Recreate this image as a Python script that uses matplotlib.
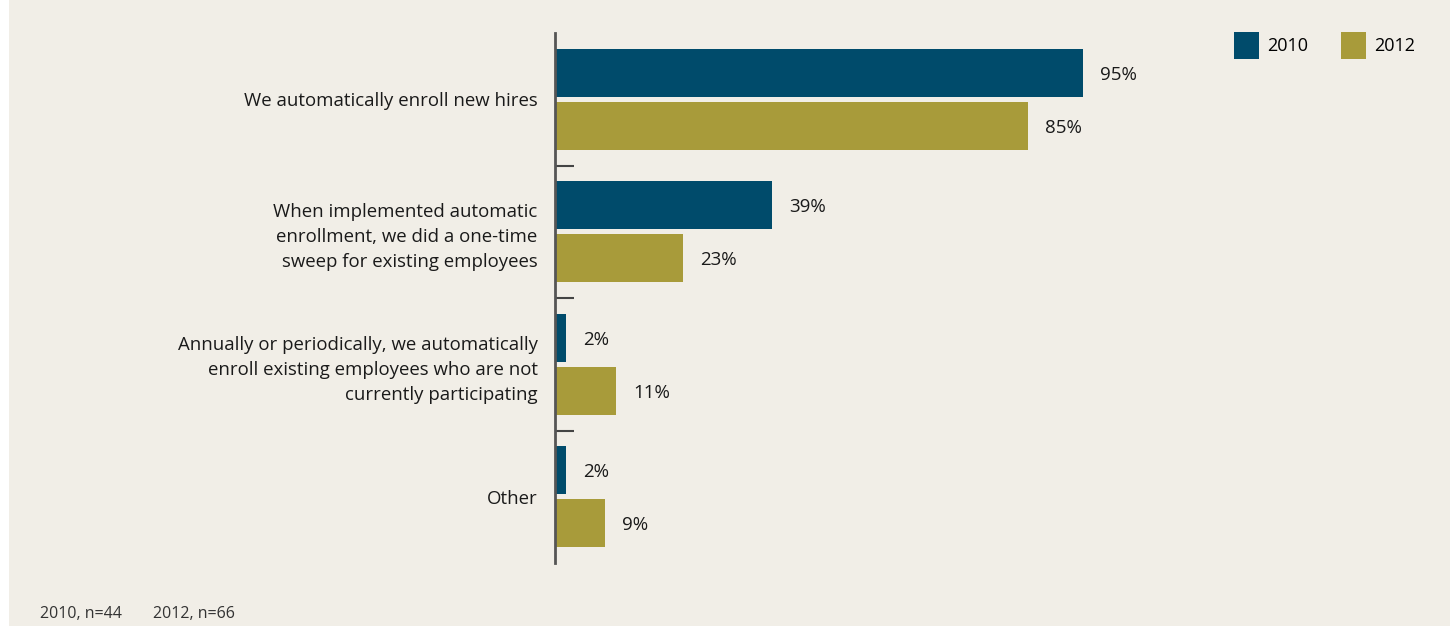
import matplotlib
matplotlib.use("Agg")
import matplotlib.pyplot as plt
from matplotlib.patches import Patch, Rectangle

categories = [
    "We automatically enroll new hires",
    "When implemented automatic\nenrollment, we did a one-time\nsweep for existing employees",
    "Annually or periodically, we automatically\nenroll existing employees who are not\ncurrently participating",
    "Other",
]
series_names = ["2010", "2012"]
values_2010 = [95, 39, 2, 2]
values_2012 = [85, 23, 11, 9]
footnotes = ["2010, n=44", "2012, n=66"]

navy = "#004b6b"
olive = "#a89b3a"
bg = "#f1eee7"
text_color = "#1a1a1a"

plt.rcParams["font.family"] = ["Open Sans", "DejaVu Sans"]

W, H = 1450, 626
fig = plt.figure(figsize=(W / 100, H / 100), dpi=100)
fig.patch.set_facecolor("white")
fig.add_artist(Rectangle((9 / W, 0), 1 - 9 / W, 1, transform=fig.transFigure,
                         facecolor=bg, edgecolor="none", zorder=-10))

left, right = 555 / W, 1111 / W
top, bottom = 1 - 33 / H, 1 - 563 / H
ax = fig.add_axes([left, bottom, right - left, top - bottom])
ax.set_facecolor("none")

ypos = list(range(len(categories)))
bh = 0.362
off = 0.2
ax.barh([y - off for y in ypos], values_2010, height=bh, color=navy, label=series_names[0])
ax.barh([y + off for y in ypos], values_2012, height=bh, color=olive, label=series_names[1])

for y, v in zip(ypos, values_2010):
    ax.annotate(f"{v}%", (v, y - off), xytext=(17, 0), textcoords="offset pixels",
                va="center_baseline", ha="left", fontsize=13.5, color=text_color)
for y, v in zip(ypos, values_2012):
    ax.annotate(f"{v}%", (v, y + off), xytext=(17, 0), textcoords="offset pixels",
                va="center_baseline", ha="left", fontsize=13.5, color=text_color)

ax.set_xlim(0, 100)
ax.set_ylim(len(categories) - 0.5, -0.5)
ax.set_yticks(ypos)
ax.set_yticklabels(categories, fontsize=13.4, color=text_color, ha="right", linespacing=1.5)
ax.tick_params(axis="y", which="major", length=0, pad=12.5)
ax.set_yticks([i + 0.5 for i in range(len(categories) - 1)], minor=True)
ax.tick_params(axis="y", which="minor", direction="in", length=14, width=1.5, color="#444444")
ax.set_xticks([])
for s in ["top", "right", "bottom"]:
    ax.spines[s].set_visible(False)
ax.spines["left"].set_color("#555555")
ax.spines["left"].set_linewidth(2)

handles = [Patch(facecolor=navy, label=series_names[0]), Patch(facecolor=olive, label=series_names[1])]
fig.legend(handles=handles, loc="upper left", bbox_to_anchor=(1229 / W, 1 - 27 / H), ncol=2,
           frameon=False, fontsize=13, handlelength=1.35, handleheight=1.85,
           handletextpad=0.45, columnspacing=1.85, borderaxespad=0, borderpad=0.3)

fig.text(40 / W, 1 - 618 / H, footnotes[0], fontsize=11.5, color="#333333", va="baseline")
fig.text(153 / W, 1 - 618 / H, footnotes[1], fontsize=11.5, color="#333333", va="baseline")

fig.savefig("out.png", dpi=100, facecolor=fig.get_facecolor())
